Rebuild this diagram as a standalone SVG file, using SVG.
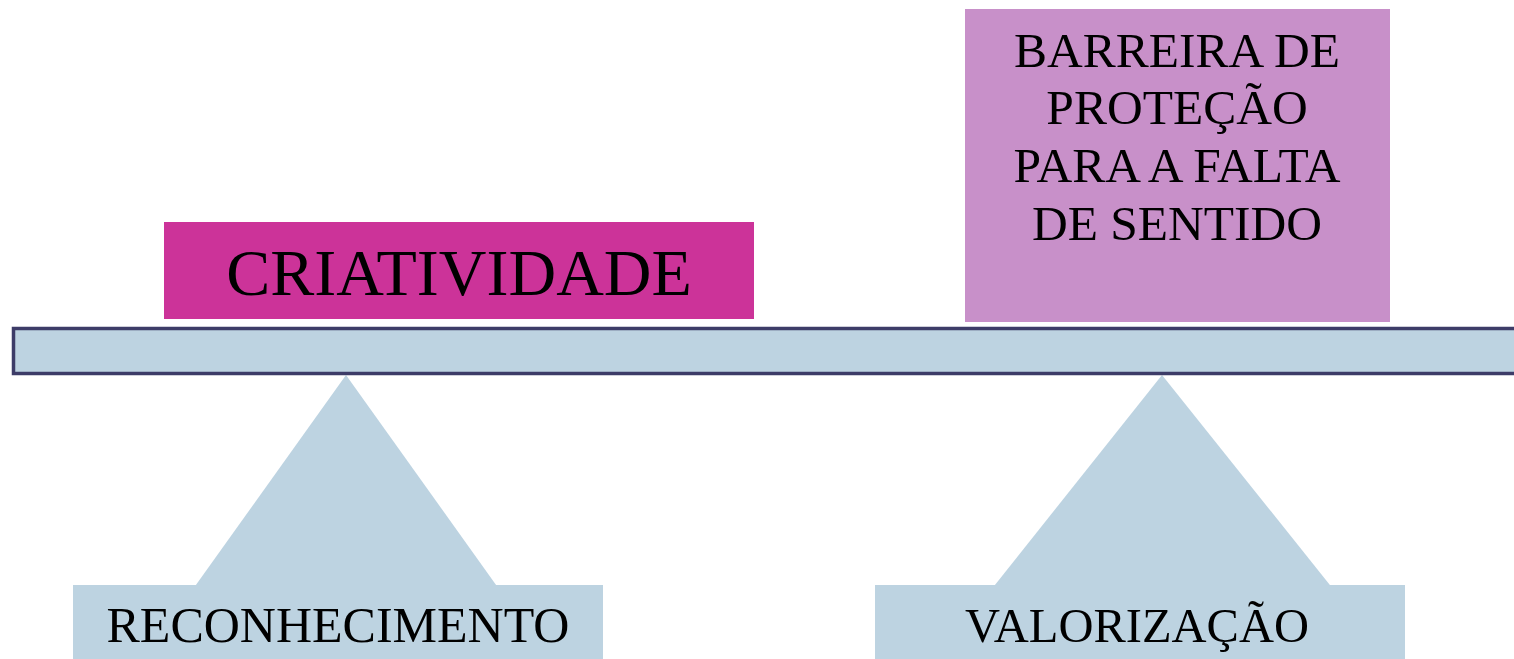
<svg xmlns="http://www.w3.org/2000/svg" width="1514" height="659" viewBox="0 0 1514 659">
<style>
.t{font-family:"Liberation Serif","Times New Roman",serif;fill:#000;text-anchor:middle}
.blue{fill:#bdd3e1}
</style>
<rect width="1514" height="659" fill="#fff"/>
<g id="fulcrum-left"><polygon class="blue" points="346,375 143,659 549,659"/></g>
<g id="fulcrum-right"><polygon class="blue" points="1162,375 936,659 1389,659"/></g>
<g id="beam"><rect x="13.5" y="328.5" width="1510" height="45" fill="#bdd3e1" stroke="#3d3c68" stroke-width="3.5"/></g>
<g id="criatividade">
<rect x="164" y="222" width="590" height="97" fill="#cc3399"/>
<text class="t" x="459" y="295" font-size="66">CRIATIVIDADE</text>
</g>
<g id="barreira">
<rect x="965" y="9" width="425" height="313" fill="#c890c9"/>
<text class="t" font-size="49.5"><tspan x="1177" y="67">BARREIRA DE</tspan><tspan x="1177" y="124">PROTEÇÃO</tspan><tspan x="1177" y="182">PARA A FALTA</tspan><tspan x="1177" y="240">DE SENTIDO</tspan></text>
</g>
<g id="reconhecimento">
<rect class="blue" x="73" y="585" width="530" height="74"/>
<text class="t" x="338" y="642" font-size="50">RECONHECIMENTO</text>
</g>
<g id="valorizacao">
<rect class="blue" x="875" y="585" width="530" height="74"/>
<text class="t" x="1137" y="642" font-size="48.5">VALORIZAÇÃO</text>
</g>
<g id="connectors"></g>
</svg>
